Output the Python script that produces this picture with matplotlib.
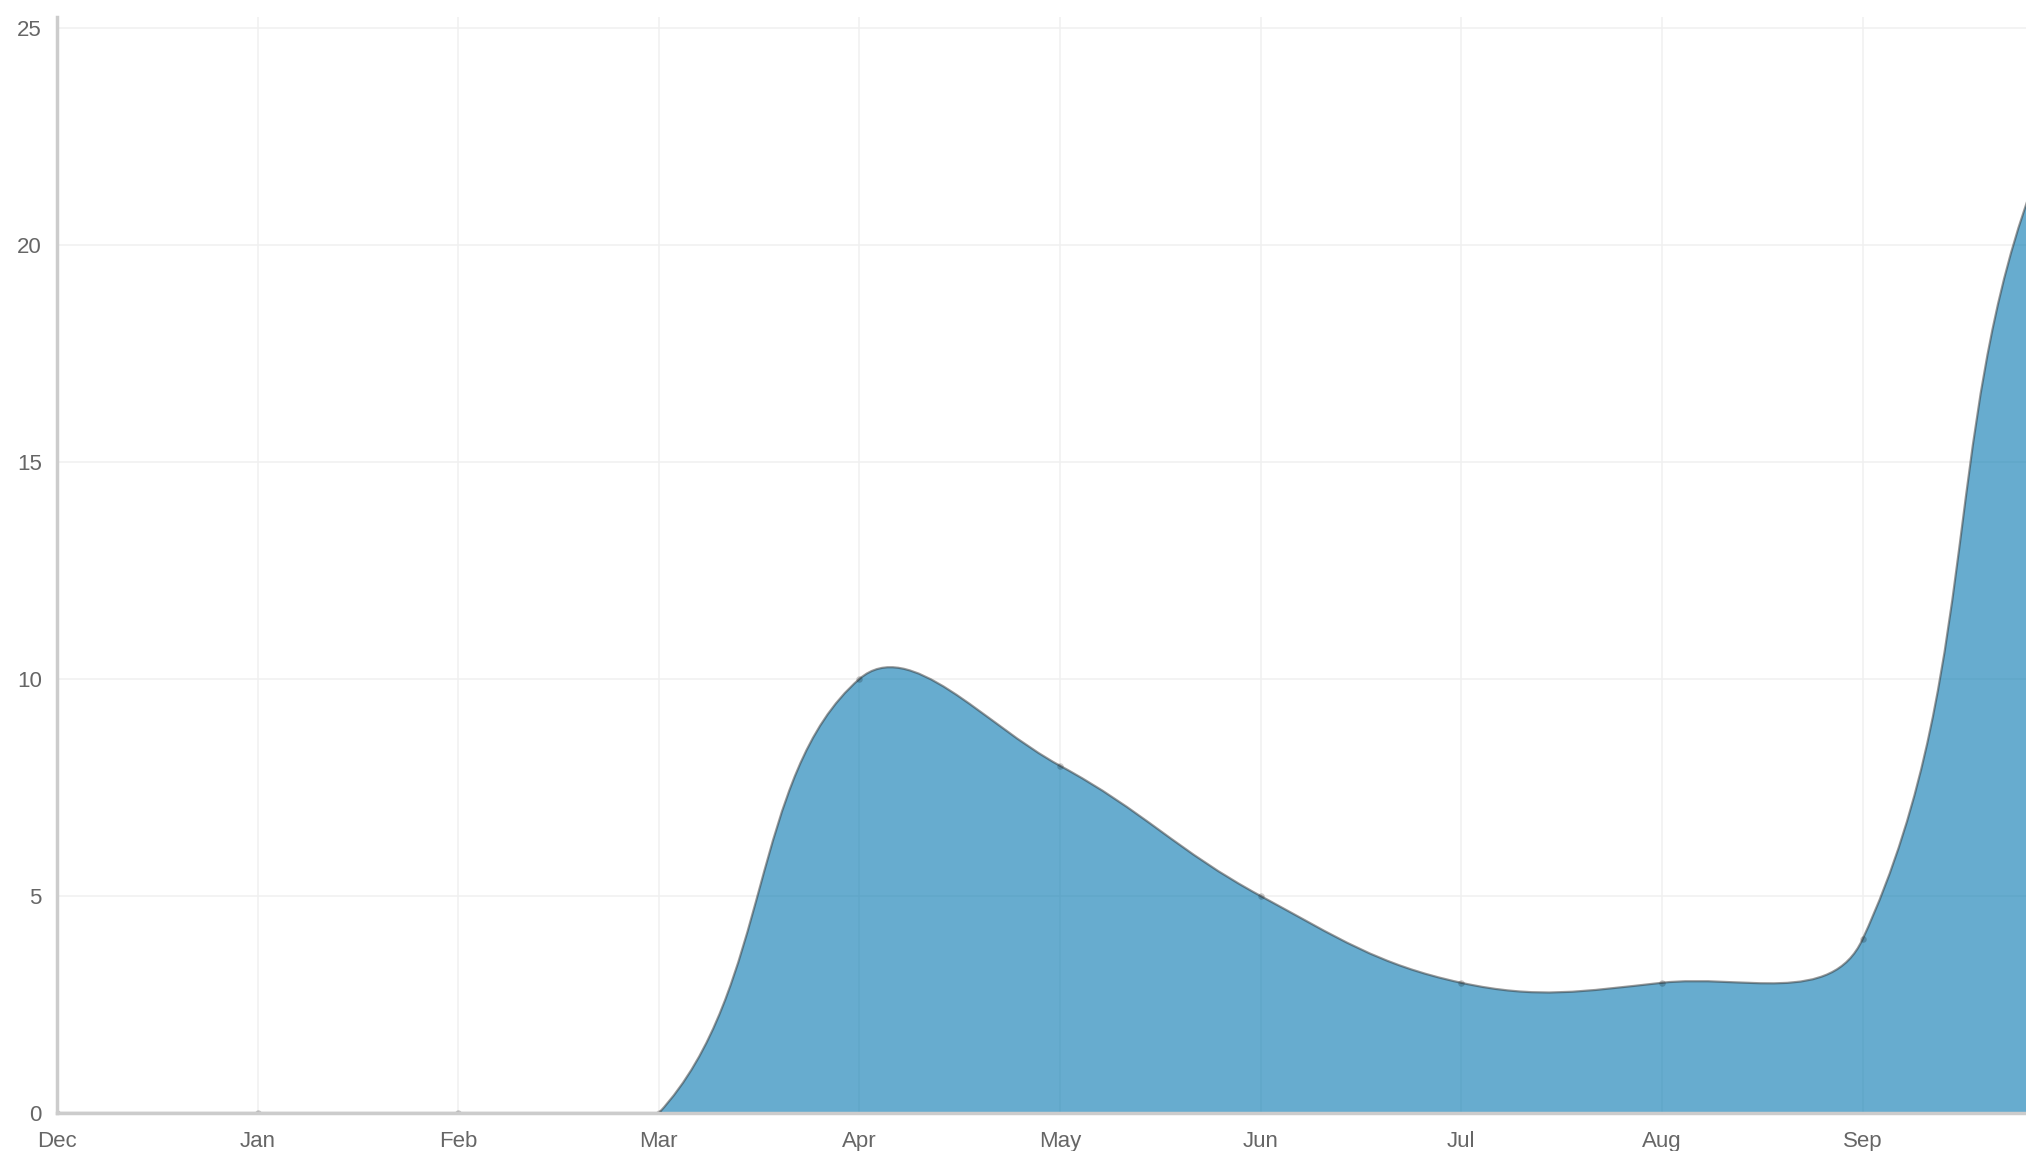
import numpy as np
import matplotlib
matplotlib.use("Agg")
import matplotlib.pyplot as plt
from matplotlib.path import Path
from matplotlib.patches import PathPatch

months = ["Dec", "Jan", "Feb", "Mar", "Apr", "May", "Jun", "Jul", "Aug", "Sep", "Oct", "Nov"]
counts = [0, 0, 0, 0, 10, 8, 5, 3, 3, 4, 23, 23]
y_ticks = [0, 5, 10, 15, 20, 25]

X_MAX = 9.815
Y_MAX = 25.25


def spline_controls(xs, ys, sx, sy, ymin, ymax, tension=0.4):
    # same idea as chart.js splineCurve, distances measured in pixels
    n = len(xs)
    prev_c, next_c = [], []
    for i in range(n):
        a = i - 1 if i > 0 else i
        b = i + 1 if i < n - 1 else i
        d01 = np.hypot((xs[i] - xs[a]) * sx, (ys[i] - ys[a]) * sy)
        d12 = np.hypot((xs[b] - xs[i]) * sx, (ys[b] - ys[i]) * sy)
        tot = d01 + d12
        s01 = d01 / tot if tot else 0
        s12 = d12 / tot if tot else 0
        fa, fb = tension * s01, tension * s12
        dx, dy = xs[b] - xs[a], ys[b] - ys[a]
        prev_c.append((xs[i] - fa * dx, min(max(ys[i] - fa * dy, ymin), ymax)))
        next_c.append((xs[i] + fb * dx, min(max(ys[i] + fb * dy, ymin), ymax)))
    return prev_c, next_c


def main():
    plt.rcParams["font.family"] = ["Liberation Sans", "DejaVu Sans"]

    fig = plt.figure(figsize=(20.26, 11.51), dpi=100)
    ax = fig.add_axes([57 / 2026, 1 - 1113 / 1151, 1 - 57 / 2026, (1113 - 17) / 1151])

    x = np.arange(len(months))
    ax.set_xlim(0, X_MAX)
    ax.set_ylim(0, Y_MAX)
    ax.autoscale(False)

    # pixel size of one unit on each axis
    o = ax.transData.transform((0, 0))
    sx = ax.transData.transform((1, 0))[0] - o[0]
    sy = ax.transData.transform((0, 1))[1] - o[1]

    prev_c, next_c = spline_controls(x, counts, sx, sy, 0, Y_MAX)

    verts = [(x[0], counts[0])]
    codes = [Path.MOVETO]
    for i in range(len(x) - 1):
        verts += [next_c[i], prev_c[i + 1], (x[i + 1], counts[i + 1])]
        codes += [Path.CURVE4] * 3
    line_path = Path(verts, codes)

    fill_verts = verts + [(x[-1], 0), (x[0], 0), (x[0], counts[0])]
    fill_codes = codes + [Path.LINETO, Path.LINETO, Path.CLOSEPOLY]
    fill_path = Path(fill_verts, fill_codes)

    ax.add_patch(PathPatch(fill_path, facecolor=(2 / 255, 118 / 255, 175 / 255, 0.6),
                           edgecolor="none", zorder=2))
    ax.add_patch(PathPatch(line_path, facecolor="none", edgecolor=(0.2, 0.2, 0.2, 0.5),
                           lw=1.6, zorder=3))
    ax.scatter(x, counts, s=22, color=(0, 0, 0, 0.2), zorder=4, linewidths=0)

    ax.set_xlim(0, X_MAX)
    ax.set_ylim(0, Y_MAX)

    ax.set_xticks(x[:10])
    ax.set_xticklabels(months[:10])
    ax.set_yticks(y_ticks)
    ax.grid(True, color="#f0f0f0", lw=1.1, zorder=0)
    ax.set_axisbelow(True)

    for s in ["top", "right"]:
        ax.spines[s].set_visible(False)
    for s in ["left", "bottom"]:
        ax.spines[s].set_color("#cccccc")
        ax.spines[s].set_linewidth(2.5)
        ax.spines[s].set_zorder(5)

    ax.tick_params(axis="both", length=0, labelsize=16, colors="#666666")
    ax.tick_params(axis="y", pad=11)
    ax.tick_params(axis="x", pad=13)

    fig.savefig("out.png", dpi=100)


if __name__ == "__main__":
    main()
